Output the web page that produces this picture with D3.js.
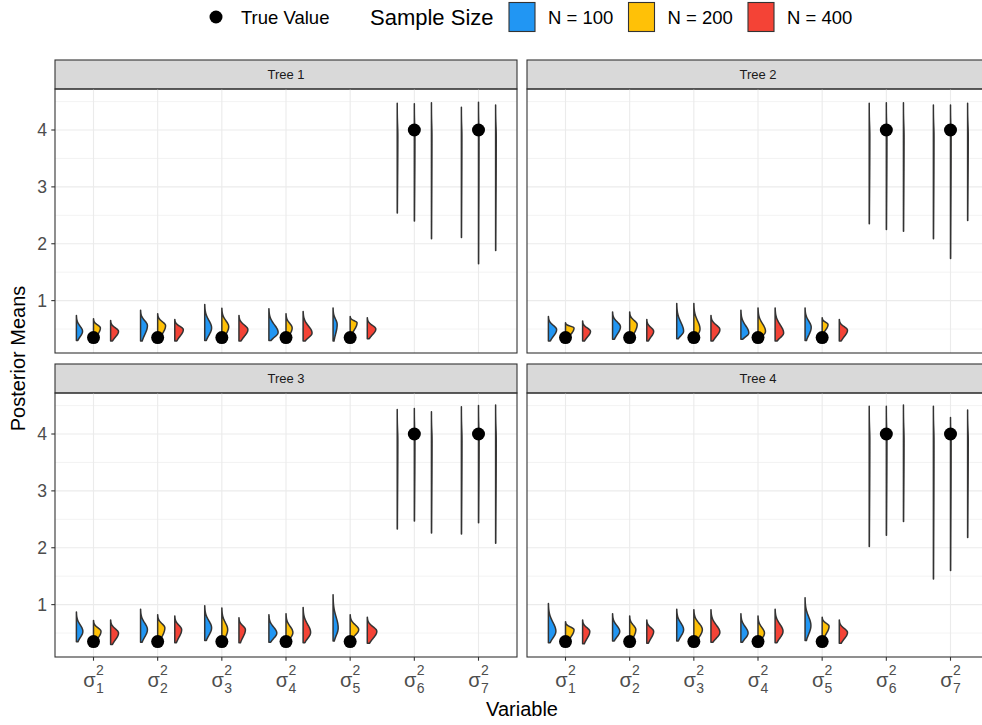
<!DOCTYPE html>
<html>
<head>
<meta charset="utf-8">
<script src="https://cdn.jsdelivr.net/npm/d3@7"></script>
<style>
  body { margin: 0; background: #fff; }
  svg { display: block; font-family: "Liberation Sans", Arial, Helvetica, sans-serif; }
</style>
</head>
<body>
<svg id="chart" width="982" height="725"></svg>
<script>
// ---- data ---------------------------------------------------------------
const trees = ["Tree 1", "Tree 2", "Tree 3", "Tree 4"];
const variables = ["1", "2", "3", "4", "5", "6", "7"];
const sampleSizes = ["N = 100", "N = 200", "N = 400"];
const sizeColors = ["#2196F3", "#FFC107", "#F44336"];
const trueValues = [0.35, 0.35, 0.35, 0.35, 0.35, 4, 4];
const yTicks = [1, 2, 3, 4];

// posterior-mean distributions: [tree][variable][sample size]
const violinLow = [
  [[0.30,0.32,0.29],[0.29,0.32,0.29],[0.30,0.32,0.29],[0.30,0.32,0.29],[0.29,0.40,0.33],[2.54,2.40,2.09],[2.11,1.65,1.88]],
  [[0.29,0.32,0.29],[0.32,0.32,0.29],[0.33,0.32,0.29],[0.32,0.32,0.29],[0.30,0.42,0.29],[2.35,2.25,2.22],[2.09,1.74,2.41]],
  [[0.345,0.33,0.30],[0.34,0.33,0.33],[0.37,0.33,0.33],[0.34,0.33,0.33],[0.36,0.40,0.32],[2.33,2.47,2.26],[2.24,2.44,2.08]],
  [[0.33,0.33,0.31],[0.36,0.33,0.32],[0.36,0.33,0.34],[0.34,0.33,0.33],[0.37,0.40,0.32],[2.02,2.22,2.46],[1.45,1.60,2.18]]
];
const violinMode = [
  [[0.46,0.52,0.46],[0.56,0.56,0.49],[0.52,0.54,0.49],[0.44,0.52,0.43],[0.58,0.61,0.50],[3.9,3.9,3.9],[3.9,3.9,3.9]],
  [[0.49,0.52,0.46],[0.54,0.58,0.46],[0.46,0.50,0.49],[0.43,0.46,0.43],[0.53,0.58,0.48],[3.9,3.9,3.9],[3.9,3.9,3.9]],
  [[0.53,0.53,0.50],[0.56,0.59,0.56],[0.59,0.56,0.56],[0.50,0.51,0.51],[0.59,0.56,0.53],[3.9,3.9,3.9],[3.9,3.9,3.9]],
  [[0.53,0.56,0.53],[0.53,0.56,0.53],[0.56,0.56,0.51],[0.50,0.50,0.53],[0.63,0.62,0.51],[3.9,3.9,3.9],[3.9,3.9,3.9]]
];
const violinHigh = [
  [[0.74,0.68,0.65],[0.83,0.77,0.67],[0.93,0.865,0.74],[0.855,0.77,0.81],[0.87,0.72,0.70],[4.47,4.46,4.48],[4.40,4.49,4.44]],
  [[0.72,0.61,0.64],[0.80,0.80,0.67],[0.95,0.95,0.74],[0.83,0.87,0.87],[0.87,0.70,0.67],[4.47,4.48,4.48],[4.44,4.44,4.47]],
  [[0.87,0.72,0.73],[0.92,0.82,0.80],[0.98,0.94,0.77],[0.82,0.84,0.95],[1.175,0.82,0.78],[4.43,4.45,4.39],[4.48,4.50,4.51]],
  [[1.02,0.70,0.73],[0.84,0.80,0.73],[0.92,0.91,0.91],[0.84,0.80,0.92],[1.12,0.78,0.73],[4.49,4.49,4.51],[4.49,4.29,4.42]]
];
// peak density, relative to the widest violin
const violinPeak = [
  [[0.60,0.67,0.77],[0.67,0.77,0.83],[0.67,0.67,0.87],[0.90,0.60,0.87],[0.40,0.67,0.83],[0.06,0.06,0.05],[0.05,0.05,0.06]],
  [[0.80,0.83,0.77],[0.77,0.73,0.67],[0.67,0.60,0.87],[0.77,0.73,0.83],[0.60,0.57,0.80],[0.06,0.06,0.06],[0.06,0.06,0.06]],
  [[0.63,0.73,0.77],[0.67,0.70,0.67],[0.67,0.57,0.63],[0.77,0.67,0.73],[0.50,0.83,0.93],[0.06,0.06,0.06],[0.06,0.06,0.06]],
  [[0.73,0.83,0.70],[0.70,0.60,0.67],[0.67,0.83,0.87],[0.70,0.63,0.77],[0.57,0.67,0.80],[0.06,0.06,0.06],[0.06,0.06,0.06]]
];

// ---- layout -------------------------------------------------------------
const svg = d3.select("#chart");
const panelX = [55, 527];
const panelW = 462;
const stripTop = [60, 364];
const stripH = 29;
const plotH = 264;
const ink = "#333333";

// shared y scale (5% expansion of the data range)
const allVals = [violinLow, violinHigh].flat(3).concat(trueValues);
const [yMin, yMax] = d3.extent(allVals);
const pad = (yMax - yMin) * 0.05;
const yDomain = [yMin - pad, yMax + pad];
const minorTicks = d3.range(0.5, yDomain[1], 1);

// density outline: rises from the trimmed minimum to the mode, long thin upper tail
function profile(lo, mode, hi, peak) {
  const n = 60, pts = [];
  const sdLo = Math.max((mode - lo) / 1.7, 1e-6);
  const sdHi = Math.max((hi - mode) / 3.1, 1e-6);
  for (let i = 0; i <= n; i++) {
    const v = lo + (hi - lo) * i / n;
    const z = v < mode ? (v - mode) / sdLo : (v - mode) / sdHi;
    pts.push({ v, d: peak * Math.exp(-0.5 * z * z) });
  }
  return pts;
}

trees.forEach((tree, ti) => {
  const col = ti % 2, row = Math.floor(ti / 2);
  const x0 = panelX[col], top = stripTop[row] + stripH;
  const x = d3.scalePoint().domain(variables).range([x0, x0 + panelW]).padding(0.6);
  const y = d3.scaleLinear().domain(yDomain).range([top + plotH, top]);
  const step = x.step();
  const dodge = d3.scalePoint().domain(sampleSizes).range([-0.8 / 3 * step, 0.8 / 3 * step]);
  const w = d3.scaleLinear().domain([0, 1]).range([0, step * 0.16]);

  const g = svg.append("g");

  // strip
  g.append("rect").attr("x", x0).attr("y", stripTop[row]).attr("width", panelW).attr("height", stripH)
    .attr("fill", "#D9D9D9").attr("stroke", ink).attr("stroke-width", 1.1);
  g.append("text").attr("x", x0 + panelW / 2).attr("y", stripTop[row] + stripH / 2 + 4.6)
    .attr("text-anchor", "middle").attr("font-size", 13).attr("fill", "#1A1A1A").text(tree);

  // grid
  const grid = g.append("g");
  grid.selectAll(".minor").data(minorTicks).join("line")
    .attr("x1", x0).attr("x2", x0 + panelW).attr("y1", d => y(d)).attr("y2", d => y(d))
    .attr("stroke", "#EBEBEB").attr("stroke-width", 0.6);
  grid.selectAll(".major").data(yTicks).join("line")
    .attr("x1", x0).attr("x2", x0 + panelW).attr("y1", d => y(d)).attr("y2", d => y(d))
    .attr("stroke", "#EBEBEB").attr("stroke-width", 1.1);
  grid.selectAll(".vmajor").data(variables).join("line")
    .attr("x1", d => x(d)).attr("x2", d => x(d)).attr("y1", top).attr("y2", top + plotH)
    .attr("stroke", "#EBEBEB").attr("stroke-width", 1.1);

  // half violins
  const area = d3.area().curve(d3.curveBasis).y(d => y(d.v));
  variables.forEach((v, vi) => {
    sampleSizes.forEach((s, si) => {
      const flat = x(v) + dodge(s);
      const pts = profile(violinLow[ti][vi][si], violinMode[ti][vi][si], violinHigh[ti][vi][si], violinPeak[ti][vi][si]);
      g.append("path").datum(pts)
        .attr("d", area.x0(flat).x1(d => flat + w(d.d)))
        .attr("fill", sizeColors[si]).attr("stroke", ink).attr("stroke-width", 1.5)
        .attr("stroke-linejoin", "round");
    });
  });

  // true values
  g.selectAll(".truth").data(variables).join("circle")
    .attr("cx", d => x(d)).attr("cy", (d, i) => y(trueValues[i])).attr("r", 6.5).attr("fill", "#000");

  // border
  g.append("rect").attr("x", x0).attr("y", top).attr("width", panelW).attr("height", plotH)
    .attr("fill", "none").attr("stroke", ink).attr("stroke-width", 1.1);

  // y axis on left column
  if (col === 0) {
    const ax = g.append("g");
    ax.selectAll("line").data(yTicks).join("line")
      .attr("x1", x0 - 3.7).attr("x2", x0).attr("y1", d => y(d)).attr("y2", d => y(d))
      .attr("stroke", ink).attr("stroke-width", 1.1);
    ax.selectAll("text").data(yTicks).join("text")
      .attr("x", x0 - 8).attr("y", d => y(d) + 6.3).attr("text-anchor", "end")
      .attr("font-size", 17.6).attr("fill", "#4D4D4D").text(d => d);
  }
  // x axis on bottom row
  if (row === 1) {
    const ax = g.append("g");
    const base = top + plotH;
    ax.selectAll("line").data(variables).join("line")
      .attr("x1", d => x(d)).attr("x2", d => x(d)).attr("y1", base).attr("y2", base + 3.7)
      .attr("stroke", ink).attr("stroke-width", 1.1);
    variables.forEach(v => {
      const lab = ax.append("g").attr("fill", "#4D4D4D");
      const sig = lab.append("text").attr("x", 0).attr("y", base + 30).attr("font-size", 20).text("σ");
      const sw = sig.node().getComputedTextLength();
      const sup = lab.append("text").attr("x", sw + 0.3).attr("y", base + 18).attr("font-size", 14).text("2");
      const sub = lab.append("text").attr("x", sw + 0.3).attr("y", base + 36).attr("font-size", 14).text(v);
      const tw = sw + 0.3 + Math.max(sup.node().getComputedTextLength(), sub.node().getComputedTextLength());
      lab.attr("transform", `translate(${x(v) - tw / 2},0)`);
    });
  }
});

// axis titles
svg.append("text").attr("x", (panelX[0] + panelX[1] + panelW) / 2).attr("y", 716)
  .attr("text-anchor", "middle").attr("font-size", 20).attr("fill", "#000").text("Variable");
svg.append("text").attr("transform", `translate(25,${(stripTop[0] + stripTop[1] + stripH + plotH) / 2}) rotate(-90)`)
  .attr("text-anchor", "middle").attr("font-size", 20).attr("fill", "#000").text("Posterior Means");

// legend
const leg = svg.append("g");
leg.append("circle").attr("cx", 216).attr("cy", 17).attr("r", 6.5).attr("fill", "#000");
leg.append("text").attr("x", 241).attr("y", 23.5).attr("font-size", 18.5).text("True Value");
leg.append("text").attr("x", 370).attr("y", 25).attr("font-size", 22).text("Sample Size");
const keyX = d3.scalePoint().domain(sampleSizes).range([509, 748]);
sampleSizes.forEach((s, i) => {
  leg.append("rect").attr("x", keyX(s)).attr("y", 2.5).attr("width", 26).attr("height", 29)
    .attr("fill", sizeColors[i]).attr("stroke", ink).attr("stroke-width", 1.1);
  leg.append("text").attr("x", keyX(s) + 39).attr("y", 23.5).attr("font-size", 18.5).text(s);
});
</script>
</body>
</html>
